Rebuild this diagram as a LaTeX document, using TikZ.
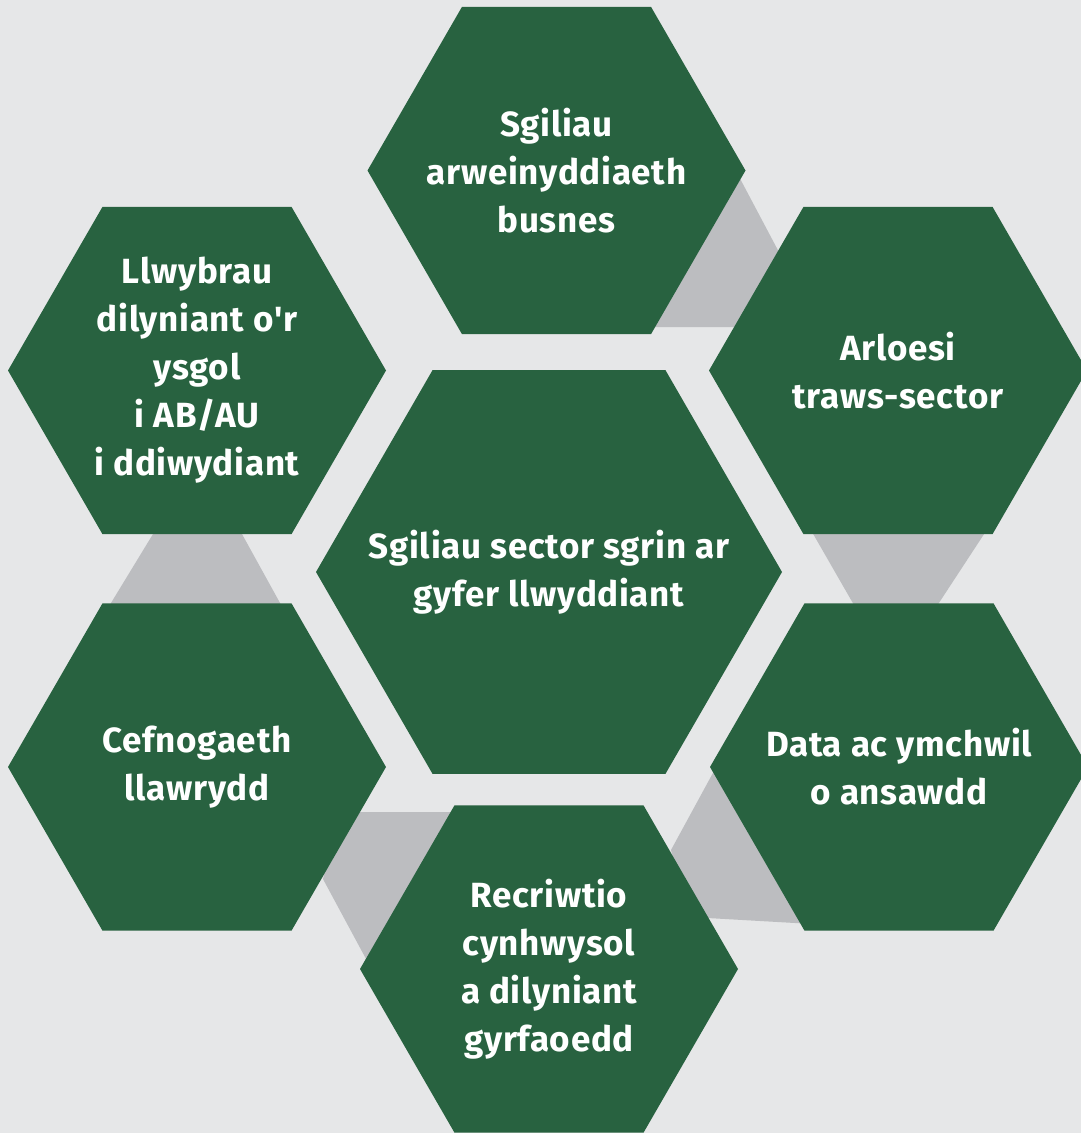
\documentclass[tikz,border=0pt]{standalone}
\usepackage{fontspec}
\setmainfont{Fira Sans}[Ligatures=TeXOff,LetterSpace=2]
\usetikzlibrary{shapes.geometric}
\definecolor{bgc}{HTML}{E6E7E8}
\definecolor{hexgreen}{HTML}{286240}
\definecolor{linkgrey}{HTML}{BCBDC0}
\begin{document}
\begin{tikzpicture}[x=1pt,y=-1pt,
  hexa/.style={regular polygon, regular polygon sides=6, fill=hexgreen, draw=none, inner sep=0pt, outer sep=0pt},
  outerhex/.style={hexa, minimum size=378pt},
  bighex/.style={hexa, minimum size=466pt},
  hextext/.style={text=white, font=\bfseries\fontsize{35}{48}\selectfont, align=center, inner sep=0pt},
  link/.style={fill=linkgrey, draw=none}]
\fill[bgc] (0,0) rectangle (1081,1133);
\useasboundingbox (0,0) rectangle (1081,1133);
% grey links
\fill[link] (736,171) -- (790,273) -- (760,327) -- (640,327) -- cycle;
\fill[link] (158.5,525) -- (237,525) -- (285,612) -- (105.5,612) -- cycle;
\fill[link] (808,525) -- (990,525) -- (933,612) -- (858,612) -- cycle;
\fill[link] (720,760) -- (830,925) -- (690,917) -- (671,850) -- cycle;
\fill[link] (340,812) -- (470,812) -- (372,970) -- (323,879) -- cycle;
% hexagons
\node[outerhex] (top) at (556.5,170.5) {};
\node[outerhex] (ul) at (197,370.5) {};
\node[outerhex] (ur) at (898,370.5) {};
\node[outerhex] (ll) at (197,767) {};
\node[outerhex] (lr) at (899,767) {};
\node[outerhex] (bot) at (549,969) {};
\node[bighex] (mid) at (549,572) {};
% texts
\node[hextext] (toptxt) at (top) {Sgiliau\\arweinyddiaeth\\busnes};
\node[hextext] (ultxt) at (ul) {Llwybrau\\dilyniant o'r\\ysgol\\i AB/AU\\i ddiwydiant};
\node[hextext] (urtxt) at (ur) {Arloesi\\traws-sector};
\node[hextext] (midtxt) at (mid) {Sgiliau sector sgrin ar\\gyfer llwyddiant};
\node[hextext] (lltxt) at (ll) {Cefnogaeth\\llawrydd};
\node[hextext] (lrtxt) at (lr) {Data ac ymchwil\\o ansawdd};
\node[hextext] (bottxt) at (bot) {Recriwtio\\cynhwysol\\a dilyniant\\gyrfaoedd};
\end{tikzpicture}
\end{document}
